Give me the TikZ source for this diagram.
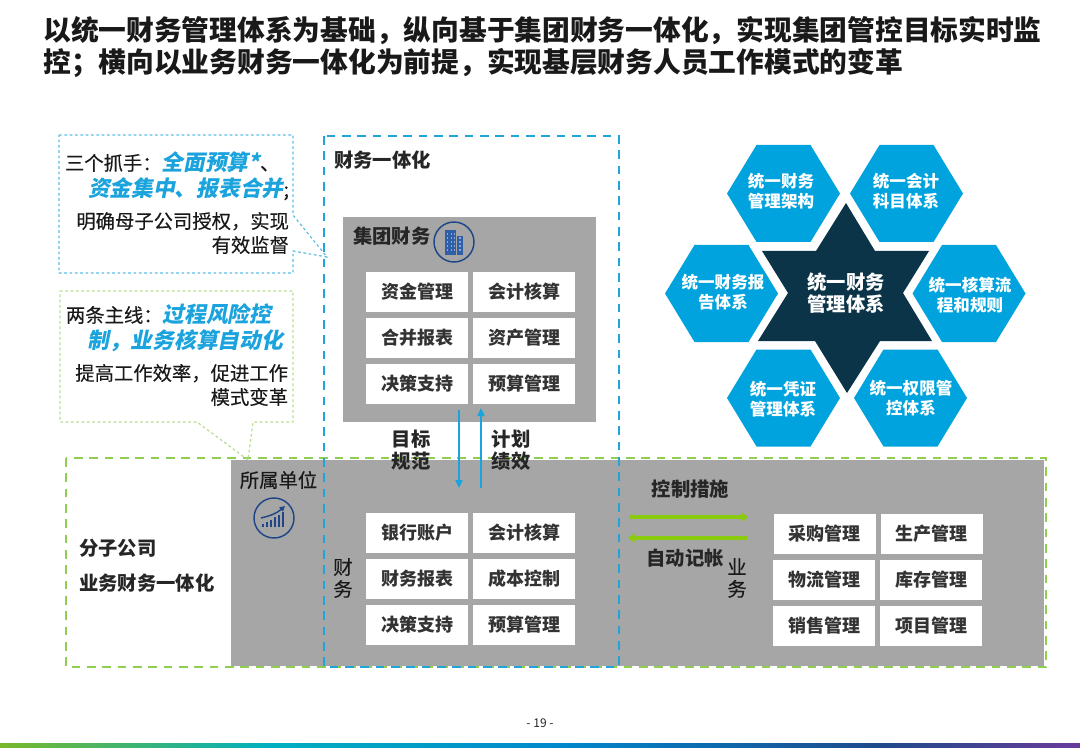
\documentclass[tikz,border=0pt]{standalone}
\usepackage{fontspec}
\setmainfont{Noto Sans CJK SC}
\newfontfamily\slantcjk[BoldFeatures={FakeSlant=0.2},UprightFeatures={FakeSlant=0.2}]{Noto Sans CJK SC}
\newfontfamily\regcjk[FakeBold=0.2]{Noto Sans CJK SC}
\usetikzlibrary{arrows.meta,calc}
\definecolor{cellgray}{HTML}{A6A6A6}
\definecolor{hexblue}{HTML}{00A3DE}
\definecolor{stardark}{HTML}{0B3448}
\definecolor{dashblue}{HTML}{1FA5D8}
\definecolor{calloutblue}{HTML}{5CBEE6}
\definecolor{dashgreen}{HTML}{8FCF4F}
\definecolor{calloutgreen}{HTML}{B5DF8C}
\definecolor{arrowgreen}{HTML}{8ACB0E}
\definecolor{iconblue}{HTML}{1F4788}
\definecolor{iconfill}{HTML}{2F5FA8}
\definecolor{accent}{HTML}{1AA3DC}
\definecolor{barA}{HTML}{78B82A}
\definecolor{barB}{HTML}{00B0C0}
\definecolor{barC}{HTML}{0088CC}
\definecolor{barD}{HTML}{1E4A8C}
\definecolor{barE}{HTML}{6A3A9C}
\newcommand{\fs}[2]{\fontsize{#1}{#2}\selectfont}
\newcommand{\accenttext}[1]{{\fs{16.3}{20}\slantcjk\bfseries\color{accent}#1}}
\tikzset{
  x=0.75pt,y=-0.75pt,
  txt/.style={inner sep=0pt,outer sep=0pt,align=center,font=\fs{14.5}{16.5}\regcjk,text=black!90},
  txtb/.style={inner sep=0pt,outer sep=0pt,align=center,font=\fs{14.5}{16.5}\bfseries,text=black!85},
  cell/.style={fill=white,draw=none,minimum width=76.5pt,minimum height=30pt,inner sep=0pt,font=\fs{13.5}{16}\bfseries,text=black!80},
  hexa/.style={fill=hexblue,draw=none},
  hextxt/.style={inner sep=0pt,align=center,text=white,font=\fs{12.4}{15}\bfseries},
  greybox/.style={fill=cellgray,draw=none},
  iconring/.style={circle,draw=iconblue,line width=1.1pt,minimum size=30pt,inner sep=0pt},
  callblue/.style={draw=calloutblue,line width=0.9pt,dash pattern=on 2pt off 2pt},
  callgreen/.style={draw=calloutgreen,line width=0.9pt,dash pattern=on 2pt off 2pt},
  bluedash/.style={draw=dashblue,line width=1.5pt,dash pattern=on 6.5pt off 5pt},
  greendash/.style={draw=dashgreen,line width=1.5pt,dash pattern=on 6.5pt off 5pt},
  bluearrow/.style={draw=accent,line width=0.9pt,-{Triangle[length=6pt,width=5.5pt]}},
  greenarrow/.style={draw=arrowgreen,line width=2.4pt,-{Triangle[length=5pt,width=7pt]}},
}
\begin{document}
\begin{tikzpicture}
\useasboundingbox (0,0) rectangle (1080,748);
\fill[white] (0,0) rectangle (1080,748);

% title
\node[inner sep=0pt,anchor=north west,align=left,font=\fs{20.8}{24}\bfseries,text=black!90] (title) at (43,16)
  {以统一财务管理体系为基础，纵向基于集团财务一体化，实现集团管控目标实时监\\控；横向以业务财务一体化为前提，实现基层财务人员工作模式的变革};

% grey areas
\node[greybox,anchor=north west,minimum width=609.75pt,minimum height=154.5pt,inner sep=0pt] (subarea) at (231,460) {};
\node[greybox,anchor=north west,minimum width=189.75pt,minimum height=153.75pt,inner sep=0pt] (grouparea) at (343,217) {};

% dashed frames
\coordinate (gtl) at (66,458); \coordinate (gbr) at (1046,667);
\draw[greendash] (gtl) rectangle (gbr);
\coordinate (btl) at (324,136); \coordinate (bbr) at (619,667);
\draw[bluedash] (btl) rectangle (bbr);

% callouts
\coordinate (tipA) at (327,257);
\coordinate (tipB) at (248,460);
\draw[callblue] (59,135) -- (293,135) -- (293,215) -- (tipA) -- (293,251) -- (293,273) -- (59,273) -- cycle;
\draw[callgreen] (60,291) -- (293,291) -- (293,422) -- (253,422) -- (tipB) -- (197,422) -- (60,422) -- cycle;

\node[txt,anchor=west] (a1) at (65,162) {三个抓手：\accenttext{全面预算*}、};
\node[txt,anchor=east] (a2) at (289,189) {\accenttext{资金集中、报表合并};};
\node[txt,anchor=east,align=right,font=\fs{14.5}{18}\regcjk] (a3) at (289,233) {明确母子公司授权，实现\\有效监督};
\node[txt,anchor=west] (b1) at (66,314) {两条主线：\accenttext{过程风险控}};
\node[txt,anchor=east] (b2) at (283,341) {\accenttext{制，业务核算自动化}};
\node[txt,anchor=east,align=right,font=\fs{14.5}{18}\regcjk] (b3) at (288,385) {提高工作效率，促进工作\\模式变革};

% section labels
\node[txtb,anchor=west] (l1) at (334,160) {财务一体化};
\node[txtb,anchor=west] (l2) at (353,236) {集团财务};
\node[txtb,anchor=west] (l3) at (79,548) {分子公司};
\node[txtb,anchor=west] (l4) at (79,583) {业务财务一体化};
\node[txt] (l5) at (278.5,480) {所属单位};
\node[txt] (l6) at (343,578) {财\\务};
\node[txt] (l7) at (737,578) {业\\务};
\node[txtb] (l8) at (411,450) {目标\\规范};
\node[txtb] (l9) at (511,450) {计划\\绩效};
\node[txtb] (l10) at (690.5,489) {控制措施};
\node[txtb] (l11) at (685,558) {自动记帐};

% cells
\foreach \nm/\cx/\cy/\t in {
  c1/417/292/资金管理,c2/524/292/会计核算,
  c3/417/338/合并报表,c4/524/338/资产管理,
  c5/417/384/决策支持,c6/524/384/预算管理,
  d1/417/533/银行账户,d2/524/533/会计核算,
  d3/417/579/财务报表,d4/524/579/成本控制,
  d5/417/625/决策支持,d6/524/625/预算管理,
  e1/824.5/534/采购管理,e2/931.5/534/生产管理,
  e3/824/579.5/物流管理,e4/931/579.5/库存管理,
  e5/824/625.5/销售管理,e6/931/625.5/项目管理}
  {\node[cell] (\nm) at (\cx,\cy) {\raisebox{0.75pt}{\t}};}

% vertical arrows
\coordinate (vd1) at (459,410); \coordinate (vd2) at (459,488);
\coordinate (vu1) at (481,488); \coordinate (vu2) at (481,408);
\draw[bluearrow] (vd1) -- (vd2);
\draw[bluearrow] (vu1) -- (vu2);

% horizontal arrows
\coordinate (hr1) at (629,517); \coordinate (hr2) at (748,517);
\coordinate (hl1) at (747,538); \coordinate (hl2) at (628,538);
\draw[greenarrow] (hr1) -- (hr2);
\draw[greenarrow] (hl1) -- (hl2);

% icons
\node[iconring] (bldg) at (454,242) {};
\begin{scope}[shift={(bldg.center)}]
  \fill[iconfill] (-9,-12) rectangle (2,13);
  \fill[iconfill] (3,-6) rectangle (9,13);
  \foreach \yy in {-9,-5,-1,3,7}{
    \foreach \xx in {-7,-3.5,-0.5}{\fill[white!45!iconfill] (\xx,\yy) rectangle ++(1.4,1.6);}
    \ifnum\yy>-9\fill[white!45!iconfill] (5,\yy) rectangle ++(2,1.6);\fi
  }
\end{scope}
\node[iconring] (chart) at (274,518) {};
\begin{scope}[shift={(chart.center)}]
  \foreach \xx/\hh in {-12/3,-8/5,-4/7,0/10,4/12,8/15}{\fill[iconblue] (\xx,9) rectangle ++(2.4,-\hh);}
  \draw[iconblue,line width=1.1pt,-{Triangle[length=4pt,width=4pt]}] (-13,0) .. controls (-5,-2) and (2,-4) .. (11,-12);
\end{scope}

% star
\fill[stardark] (846,203) -- (875,251) -- (929,251) -- (903,293) -- (932,341) -- (880,341)
  -- (847,393) -- (815,341) -- (758,341) -- (788,293) -- (762,251) -- (816,251) -- cycle;
\node[hextxt,font=\fs{14.5}{16.5}\bfseries] (star) at (846,293) {统一财务\\管理体系};

% hexagons
\foreach \nm/\cx/\cy/\tx/\ty/\t in {
  h1/783.5/193.5/781/191/{统一财务\\管理架构},
  h2/906.5/193.5/906/191/{统一会计\\科目体系},
  h3/721.5/293.5/723/292/{统一财务报\\告体系},
  h4/969/293.5/970/295/{统一核算流\\程和规则},
  h5/783.5/398/783/399.5/{统一凭证\\管理体系},
  h6/910.5/398/911/398/{统一权限管\\控体系}}
{
  \fill[hexa] (\cx-56.5,\cy) -- (\cx-27,\cy-48.5) -- (\cx+27,\cy-48.5) -- (\cx+56.5,\cy) -- (\cx+27,\cy+48.5) -- (\cx-27,\cy+48.5) -- cycle;
  \node[hextxt] (\nm) at (\tx,\ty) {\t};
}

% footer
\node[inner sep=0pt,font=\fs{9}{11},text=black!85] (page) at (540,723) {- 19 -};
\shade[left color=barA,right color=barB] (0,743) rectangle (270,748);
\shade[left color=barB,right color=barC] (270,743) rectangle (560,748);
\shade[left color=barC,right color=barD] (560,743) rectangle (880,748);
\shade[left color=barD,right color=barE] (880,743) rectangle (1080,748);
\end{tikzpicture}
\end{document}
